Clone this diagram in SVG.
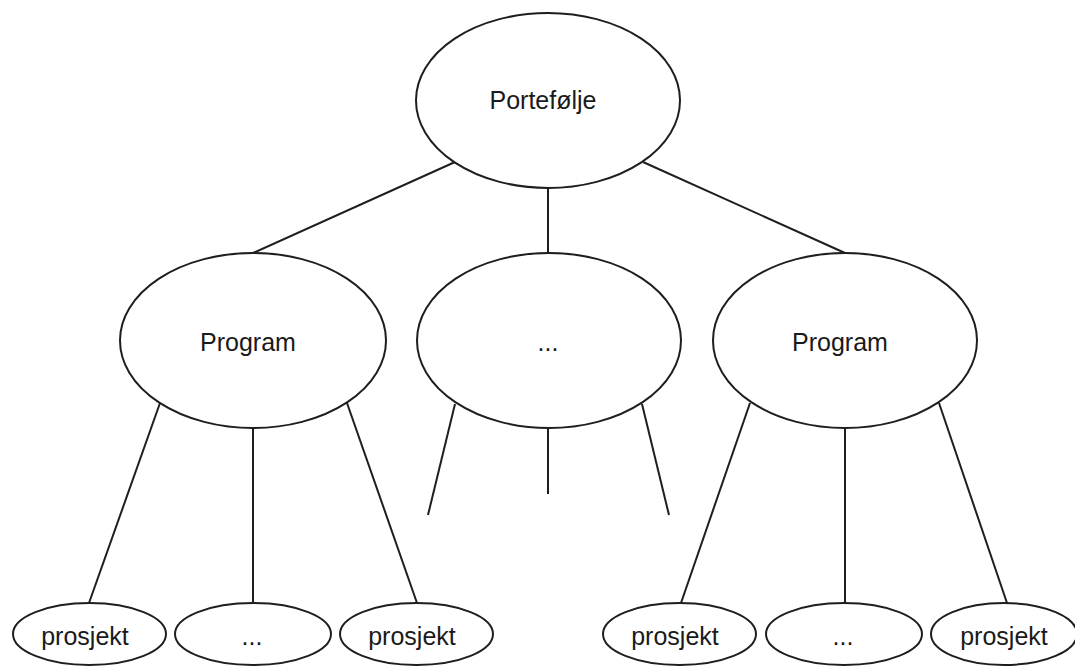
<svg xmlns="http://www.w3.org/2000/svg" width="1075" height="666" viewBox="0 0 1075 666">
  <style>
    .node ellipse { fill: #ffffff; stroke: #1e1e1e; stroke-width: 2; }
    .label { font-family: "Liberation Sans", Arial, sans-serif; font-size: 25px; fill: #1a1a1a; text-anchor: middle; }
    .edges line { stroke: #1e1e1e; stroke-width: 2; stroke-linecap: butt; }
  </style>
  <rect width="1075" height="666" fill="#ffffff"/>

  <!-- connectors -->
  <g class="edges">
    <!-- portfolio to programs -->
    <line x1="455" y1="162" x2="253" y2="253"/>
    <line x1="548" y1="188" x2="548" y2="253"/>
    <line x1="643" y1="162" x2="845" y2="253"/>
    <!-- left program to projects -->
    <line x1="160" y1="403" x2="89" y2="603"/>
    <line x1="253" y1="428" x2="253" y2="603"/>
    <line x1="347" y1="403" x2="417" y2="603"/>
    <!-- middle placeholder program (open ends) -->
    <line x1="455" y1="404" x2="428" y2="515"/>
    <line x1="548" y1="428" x2="548" y2="494"/>
    <line x1="642" y1="404" x2="669" y2="515"/>
    <!-- right program to projects -->
    <line x1="750" y1="403" x2="681" y2="603"/>
    <line x1="845" y1="428" x2="845" y2="603"/>
    <line x1="939" y1="403" x2="1007" y2="603"/>
  </g>

  <g id="portefolje" class="node">
    <ellipse cx="548" cy="100.5" rx="132" ry="87.5"/>
    <text class="label" x="543" y="109">Portefølje</text>
  </g>

  <g id="program-left" class="node">
    <ellipse cx="253" cy="340.5" rx="133" ry="87.5"/>
    <text class="label" x="248" y="351">Program</text>
  </g>
  <g id="program-middle" class="node">
    <ellipse cx="549" cy="340.5" rx="132" ry="87.5"/>
    <text class="label" x="548" y="351">...</text>
  </g>
  <g id="program-right" class="node">
    <ellipse cx="845" cy="340.5" rx="132" ry="87.5"/>
    <text class="label" x="840" y="351">Program</text>
  </g>

  <g id="prosjekt-1" class="node">
    <ellipse cx="89.5" cy="634" rx="76.5" ry="31"/>
    <text class="label" x="85" y="645">prosjekt</text>
  </g>
  <g id="prosjekt-2" class="node">
    <ellipse cx="253" cy="634" rx="78" ry="31"/>
    <text class="label" x="252" y="645">...</text>
  </g>
  <g id="prosjekt-3" class="node">
    <ellipse cx="416.5" cy="634" rx="76.5" ry="31"/>
    <text class="label" x="412" y="645">prosjekt</text>
  </g>
  <g id="prosjekt-4" class="node">
    <ellipse cx="679.5" cy="634" rx="76.5" ry="31"/>
    <text class="label" x="675" y="645">prosjekt</text>
  </g>
  <g id="prosjekt-5" class="node">
    <ellipse cx="844" cy="634" rx="78" ry="31"/>
    <text class="label" x="843" y="645">...</text>
  </g>
  <g id="prosjekt-6" class="node">
    <ellipse cx="1004" cy="634" rx="73" ry="31"/>
    <text class="label" x="1004" y="645">prosjekt</text>
  </g>
</svg>
